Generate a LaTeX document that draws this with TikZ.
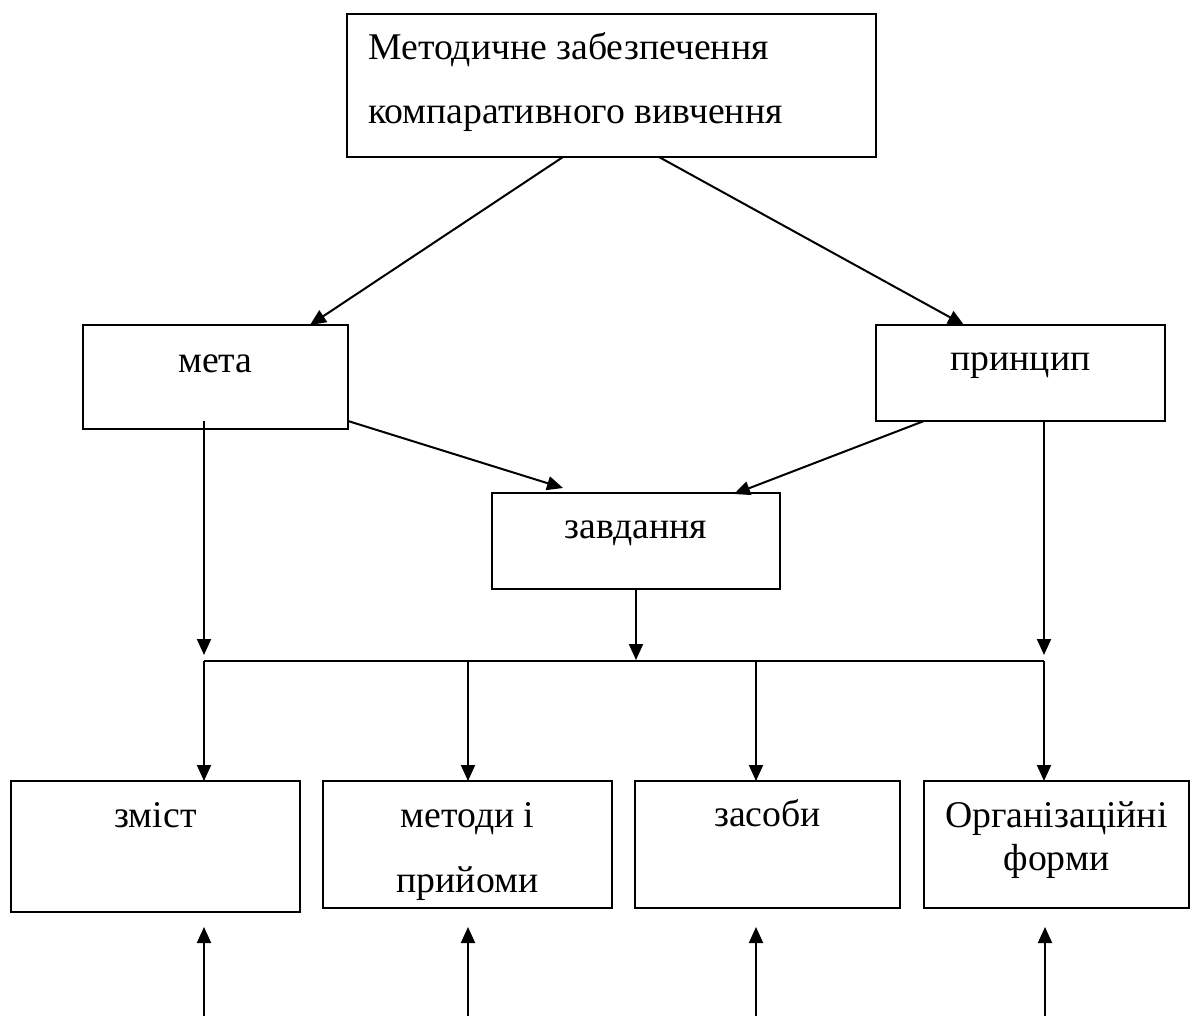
\documentclass[tikz,border=0pt]{standalone}
\usepackage{fontspec}
\setmainfont{Liberation Serif}
\usetikzlibrary{arrows.meta,calc,fit}
\begin{document}
\begin{tikzpicture}[x=0.75pt,y=-0.75pt,
  box/.style={draw, line width=1.5pt, inner sep=0pt, outer sep=0pt},
  lbl/.style={inner sep=0pt, anchor=base, font=\fontsize{28.3pt}{34pt}\selectfont},
  lblw/.style={lbl, anchor=base west},
  conn/.style={line width=1.5pt},
  arr/.style={conn, -{Triangle[length=12pt,width=10.5pt]}}]
\fill[white] (0,0) rectangle (1195,1016);
\useasboundingbox (0,0) rectangle (1195,1016);

% boxes
\node[box, fit={(347,14)(876,157)}] (top) {};
\node[box, fit={(83,325)(348,429)}] (meta) {};
\node[box, fit={(876,325)(1165,421)}] (princ) {};
\node[box, fit={(492,493)(780,589)}] (zavd) {};
\node[box, fit={(11,781)(300,912)}] (zmist) {};
\node[box, fit={(323,781)(612,908)}] (metody) {};
\node[box, fit={(635,781)(900,908)}] (zasoby) {};
\node[box, fit={(924,781)(1189,908)}] (org) {};

% texts
\node[lblw] (t1a) at (368,60) {Методичне забезпечення};
\node[lblw] (t1b) at (368,124) {компаративного вивчення};
\node[lbl] (tmeta) at (215.5,372) {мета};
\node[lbl] (tprinc) at (1020.5,370) {принцип};
\node[lbl] (tzavd) at (636,538) {завдання};
\node[lbl] (tzmist) at (155.5,827) {зміст};
\node[lbl] (tmet1) at (467.5,827) {методи і};
\node[lbl] (tmet2) at (467.5,892) {прийоми};
\node[lbl] (tzas) at (767.5,826) {засоби};
\node[lbl] (torg1) at (1056.5,827) {Організаційні};
\node[lbl] (torg2) at (1056.5,870) {форми};

% junction coordinates
\coordinate (jL) at (204,661);
\coordinate (j2) at (468,661);
\coordinate (jC) at (636,661);
\coordinate (j3) at (756,661);
\coordinate (jR) at (1044,661);
\coordinate (b1) at (204,1016);
\coordinate (b2) at (468,1016);
\coordinate (b3) at (756,1016);
\coordinate (b4) at (1045,1016);

% connectors
\draw[arr] ($(top.south)+(-48.5,0)$) -- ($(meta.north)+(94.5,0)$);
\draw[arr] ($(top.south)+(47.5,0)$) -- ($(princ.north)+(-56.5,0)$);
\draw[arr] ($(meta.south east)+(0,-8)$) -- ($(zavd.north)+(-73,-5)$);
\draw[arr] ($(princ.south)+(-96.5,0)$) -- ($(zavd.north)+(98,1)$);
\draw[arr] ($(meta.south)+(-11.5,-8)$) -- ($(jL)+(0,-6)$);
\draw[arr] ($(princ.south)+(23.5,0)$) -- ($(jR)+(0,-6)$);
\draw[arr] (zavd.south) -- ($(jC)+(0,-1)$);
\draw[conn] (jL) -- (jR);
\draw[arr] (jL) -- ($(zmist.north)+(48.5,0)$);
\draw[arr] (j2) -- ($(metody.north)+(0.5,0)$);
\draw[arr] (j3) -- ($(zasoby.north)+(-11.5,0)$);
\draw[arr] (jR) -- ($(org.north)+(-12.5,0)$);
\draw[arr] (b1) -- ($(zmist.south)+(48.5,15)$);
\draw[arr] (b2) -- ($(metody.south)+(0.5,19)$);
\draw[arr] (b3) -- ($(zasoby.south)+(-11.5,19)$);
\draw[arr] (b4) -- ($(org.south)+(-11.5,19)$);
\end{tikzpicture}
\end{document}
